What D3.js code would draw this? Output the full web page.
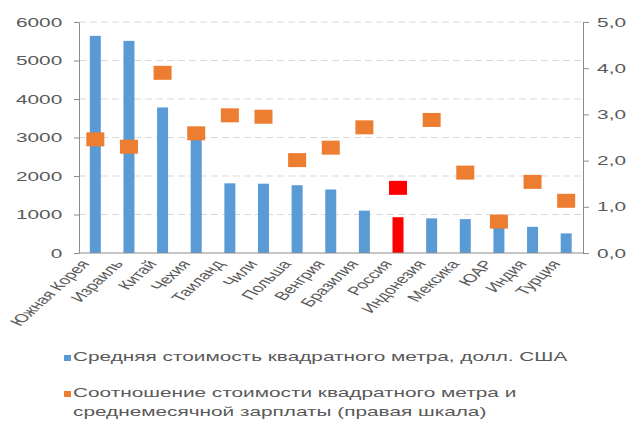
<!DOCTYPE html>
<html>
<head>
<meta charset="utf-8">
<script src="https://cdn.jsdelivr.net/npm/d3@7"></script>
<style>
  body { margin: 0; background: #fff; }
  text { font-family: Arial, "Liberation Sans", sans-serif; fill: #595959; }
</style>
</head>
<body>
<svg width="632" height="425"></svg>
<script>
const countries = ['Южная Корея','Израиль','Китай','Чехия','Таиланд','Чили','Польша','Венгрия','Бразилия','Россия','Индонезия','Мексика','ЮАР','Индия','Турция']
const pricePerSqm = [5640, 5510, 3780, 2950, 1810, 1800, 1760, 1650, 1100, 930, 900, 880, 750, 680, 510]
const priceToWage = [2.46, 2.30, 3.90, 2.59, 2.98, 2.95, 2.01, 2.28, 2.72, 1.41, 2.88, 1.74, 0.68, 1.54, 1.13]
const leftTicks = [0, 1000, 2000, 3000, 4000, 5000, 6000]
const rightTicks = [0, 1, 2, 3, 4, 5]
const legendLabels = [
  ['Средняя стоимость квадратного метра, долл. США'],
  ['Соотношение стоимости квадратного метра и', 'среднемесячной зарплаты (правая шкала)']
]

const svg = d3.select('svg')
const sx = 1.6 // reference picture is stretched sideways

const blue = '#5b9bd5'
const orange = '#ed7d31'
const red = '#ff0000'
const axisGrey = '#8c8c8c'

const x = d3.scaleBand().domain(countries).range([78.5, 583])
const yL = d3.scaleLinear().domain([0, 6000]).range([253, 22])
const yR = d3.scaleLinear().domain([0, 5]).range([253, 22])
const cx = d => x(d) + x.bandwidth() / 2

// gridlines
svg.append('g')
  .selectAll('line')
  .data(leftTicks.filter(d => d > 0))
  .enter().append('line')
    .attr('x1', 79).attr('x2', 583)
    .attr('y1', d => yL(d)).attr('y2', d => yL(d))
    .attr('stroke', '#d9d9d9')
    .attr('stroke-dasharray', '7,4')

// bars
svg.append('g')
  .selectAll('rect')
  .data(countries)
  .enter().append('rect')
    .attr('x', d => cx(d) - 5.5)
    .attr('width', 11)
    .attr('y', (d, i) => yL(pricePerSqm[i]))
    .attr('height', (d, i) => yL(0) - yL(pricePerSqm[i]))
    .attr('fill', d => d === 'Россия' ? red : blue)

// left axis
const leftAxis = svg.append('g')
  .attr('transform', 'translate(79,0)')
  .call(d3.axisLeft(yL).tickValues(leftTicks).tickSize(5).tickSizeOuter(0).tickFormat(d3.format('d')))
leftAxis.select('.domain').attr('stroke', axisGrey)
leftAxis.selectAll('line').attr('stroke', axisGrey)
leftAxis.selectAll('text')
  .attr('x', -10.5)
  .attr('transform', `scale(${sx},1)`)
  .style('font-size', '13px')
  .style('fill', '#595959')

// right axis
const rightAxis = svg.append('g')
  .attr('transform', 'translate(583,0)')
  .call(d3.axisRight(yR).tickValues(rightTicks).tickSize(6).tickSizeOuter(0).tickFormat(d => d3.format('.1f')(d).replace('.', ',')))
rightAxis.select('.domain').attr('stroke', axisGrey)
rightAxis.selectAll('line').attr('stroke', axisGrey)
rightAxis.selectAll('text')
  .attr('x', 8.8)
  .attr('transform', `scale(${sx},1)`)
  .style('font-size', '13px')
  .style('fill', '#595959')

// bottom axis line
svg.append('line')
  .attr('x1', 79).attr('x2', 583)
  .attr('y1', 253).attr('y2', 253)
  .attr('stroke', axisGrey)

// category labels
svg.append('g')
  .selectAll('text')
  .data(countries)
  .enter().append('text')
    .attr('transform', d => `translate(${cx(d) - 5},${264}) scale(${sx},1) rotate(-55)`)
    .attr('text-anchor', 'end')
    .style('font-size', '12px')
    .text(d => d)

// ratio markers
svg.append('g')
  .selectAll('rect')
  .data(countries)
  .enter().append('rect')
    .attr('x', d => cx(d) - 9)
    .attr('y', (d, i) => yR(priceToWage[i]) - 7)
    .attr('width', 18)
    .attr('height', 14)
    .attr('fill', d => d === 'Россия' ? red : orange)

// legend
const legend = svg.append('g')
const legendColors = [blue, orange]
const legendY = [361, 397]
legendLabels.forEach((lines, i) => {
  legend.append('rect')
    .attr('x', 64).attr('y', legendY[i] - 6)
    .attr('width', 7).attr('height', 6)
    .attr('fill', legendColors[i])
  lines.forEach((t, j) => {
    legend.append('text')
      .attr('transform', `translate(73,${legendY[i] + j * 19}) scale(${sx},1)`)
      .style('font-size', '13px')
      .text(t)
  })
})
</script>
</body>
</html>
